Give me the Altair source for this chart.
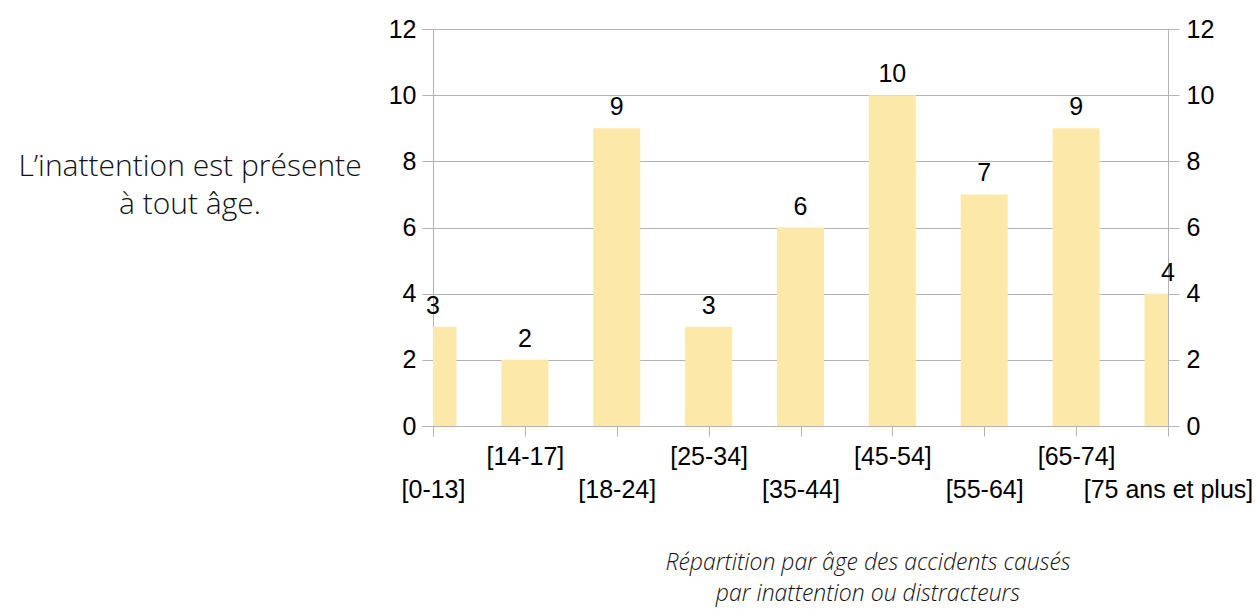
import json
import altair as alt
import pandas as pd

categories = ["[0-13]", "[14-17]", "[18-24]", "[25-34]", "[35-44]",
              "[45-54]", "[55-64]", "[65-74]", "[75 ans et plus]"]
counts = [3, 2, 9, 3, 6, 10, 7, 9, 4]
y_ticks = [0, 2, 4, 6, 8, 10, 12]
side_text = ["L\u2019inattention est présente", "à tout âge."]
caption = ["Répartition par âge des accidents causés", "par inattention ou distracteurs"]

df = pd.DataFrame({"cat": categories, "n": counts})

GRID = "#b3b3b3"
BAR = "#fce8a8"
FONT = "Liberation Sans"
TXT_FONT = "Open Sans"
FS = 25

label_expr = (
    f"indexof({json.dumps(categories)}, datum.value) % 2 == 0 ? ['', datum.label] : datum.label"
)

x_enc = alt.X(
    "cat:N",
    sort=categories,
    scale=alt.Scale(type="point", padding=0),
    axis=alt.Axis(
        title=None, labelAngle=0, labelExpr=label_expr, labelLineHeight=33,
        labelFontSize=FS, labelFont=FONT, labelColor="black", labelOverlap=False,
        labelPadding=8, tickSize=10, tickColor=GRID, domainColor=GRID,
        labelBound=False, labelFlush=False, grid=False,
    ),
)

y_scale = alt.Scale(domain=[0, 12], nice=False, zero=True)

left_axis = alt.Axis(
    title=None, values=y_ticks, labelFontSize=FS, labelFont=FONT, labelColor="black",
    tickSize=11, tickColor=GRID, domainColor=GRID, grid=True, gridColor=GRID,
    labelPadding=6, orient="left",
)
right_axis = alt.Axis(
    title=None, values=y_ticks, labelFontSize=FS, labelFont=FONT, labelColor="black",
    tickSize=11, tickColor=GRID, domainColor=GRID, grid=False,
    labelPadding=7, orient="right",
)

bars = alt.Chart(df).mark_bar(size=47, clip=True, color=BAR).encode(
    x=x_enc,
    y=alt.Y("n:Q", scale=y_scale, axis=left_axis),
)

labels = alt.Chart(df).mark_text(
    dy=-13, baseline="alphabetic", fontSize=FS, font=FONT, color="black"
).encode(
    x=x_enc,
    y=alt.Y("n:Q", scale=y_scale, axis=right_axis),
    text="n:Q",
)

one = pd.DataFrame({"a": [0]})

side = alt.Chart(one).mark_text(
    align="center", baseline="alphabetic", fontSize=30, font=TXT_FONT,
    fontWeight=300, color="#111111", lineHeight=38,
).encode(
    x=alt.value(-243), y=alt.value(147), text=alt.value(side_text)
)

cap = alt.Chart(one).mark_text(
    align="center", baseline="alphabetic", fontSize=23, font=TXT_FONT,
    fontWeight=300, fontStyle="italic", color="#111111", lineHeight=31,
).encode(
    x=alt.value(435), y=alt.value(541), text=alt.value(caption)
)

chart = (
    alt.layer(bars, labels, side, cap)
    .resolve_axis(y="independent")
    .properties(
        width=735, height=397,
        autosize=alt.AutoSizeParams(type="none"),
        padding={"left": 425, "top": 21, "right": 84, "bottom": 181},
    )
    .configure_view(stroke=None)
)

chart.save("out.html", embed_options={"renderer": "svg", "actions": False})
